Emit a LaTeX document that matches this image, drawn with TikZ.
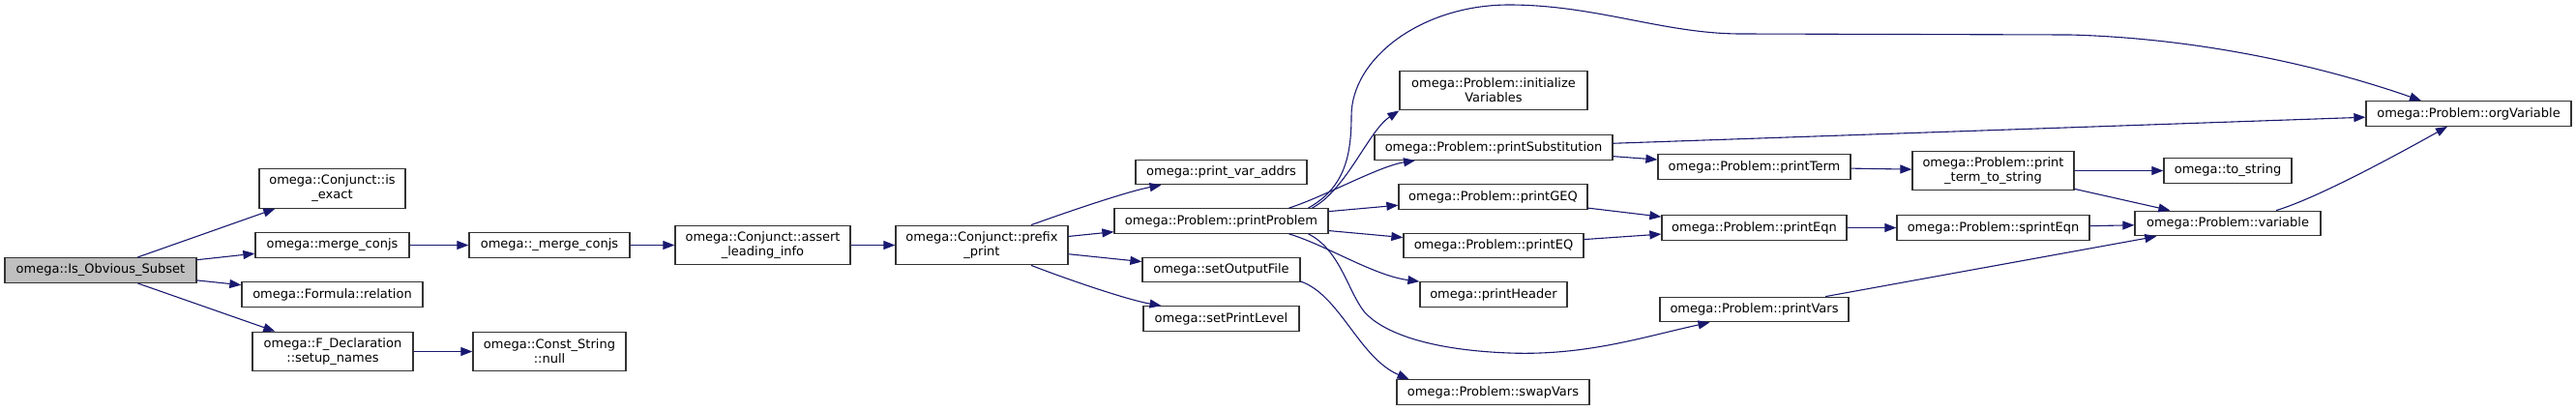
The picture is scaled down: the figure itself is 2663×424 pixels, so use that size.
\documentclass[tikz,border=0pt]{standalone}
\usepackage{fontspec}
\newfontfamily\dvsans{DejaVu Sans}
\usetikzlibrary{arrows.meta,calc}
\definecolor{linkblue}{HTML}{191970}
\definecolor{rootgray}{HTML}{BFBFBF}
\tikzset{
  fnbox/.style={draw=black!80, line width=1.3pt, fill=white, inner sep=0pt, minimum height=25.5pt, align=center, font=\dvsans\fontsize{13pt}{15pt}\selectfont},
  twoline/.style={minimum height=40.5pt},
  callarrow/.style={draw=linkblue, line width=1.1pt, -{Triangle[length=12pt,width=9pt]}}
}
\begin{document}
\begin{tikzpicture}[x=1pt, y=-1pt]
	\useasboundingbox (0,0) rectangle (2663,424);
	\node[fnbox, fill=rootgray, minimum width=198pt] (isobv) at (104,279.5) {omega::Is\_Obvious\_Subset};
	\foreach \n/\x/\y/\w/\t in {mergec/343.5/253.5/159/omega::merge\_conjs, relation/343.5/304.5/187/omega::Formula::relation,
		umerge/568/253.5/166/omega::\_merge\_conjs, pvaddrs/1262.5/178/177/omega::print\_var\_addrs,
		pproblem/1262.5/228.5/221/omega::Problem::printProblem, setof/1262.5/279/163/omega::setOutputFile,
		setpl/1262.5/329.5/161/omega::setPrintLevel, psubst/1544/152.5/246/omega::Problem::printSubstitution,
		pgeq/1543.5/203.5/195/omega::Problem::printGEQ, peq/1544/254/186/omega::Problem::printEQ,
		pheader/1544/304.5/152/omega::printHeader, swapv/1543.5/405.5/199/omega::Problem::swapVars,
		pterm/1813.5/172.5/199/omega::Problem::printTerm, peqn/1813.5/235.5/191/omega::Problem::printEqn,
		pvars/1813.5/320/195/omega::Problem::printVars, speqn/2060.5/235.5/199/omega::Problem::sprintEqn,
		tostr/2303/176.5/132/omega::to\_string, variable/2303/231/192/omega::Problem::variable,
		orgvar/2552/117.5/212/omega::Problem::orgVariable} {
		\node[fnbox, minimum width=\w pt] (\n) at (\x,\y) {\t};
	}
	\foreach \n/\x/\y/\w/\t in {isexact/343.5/195/151/{omega::Conjunct::is\\\_exact},
		setupn/344/363.5/166/{omega::F\_Declaration\\::setup\_names}, cnull/568/363.5/158/{omega::Const\_String\\::null},
		assertli/788.5/253.5/181/{omega::Conjunct::assert\\\_leading\_info}, prefixp/1015/253.5/178/{omega::Conjunct::prefix\\\_print},
		initvars/1544/93.5/194/{omega::Problem::initialize\\Variables}, ptts/2060.5/176.5/167/{omega::Problem::print\\\_term\_to\_string}} {
		\node[fnbox, twoline, minimum width=\w pt] (\n) at (\x,\y) {\t};
	}
	\foreach \a/\b in {isobv/isexact, isobv/mergec, isobv/relation, isobv/setupn, mergec/umerge, setupn/cnull,
		umerge/assertli, assertli/prefixp, prefixp/pproblem, prefixp/setof, pproblem/pgeq, pproblem/peq,
		psubst/orgvar, psubst/pterm, pgeq/peqn, peq/peqn, pterm/ptts, peqn/speqn, ptts/tostr, ptts/variable,
		speqn/variable, pvars/variable} {
		\draw[callarrow] (\a) -- (\b);
	}
	\draw[callarrow] ($(prefixp.north)+(51,0)$) .. controls (1101,220) and (1165,198) .. ($(pvaddrs.south)+(-62,0)$);
	\draw[callarrow] ($(prefixp.south)+(51,0)$) .. controls (1101,288) and (1165,310) .. ($(setpl.north)+(-62,0)$);
	\draw[callarrow] ($(pproblem.north)+(90,0)$) .. controls (1388,195) and (1397,165) .. (1397,120)
		.. controls (1397,60) and (1470,5) .. (1560,5) .. controls (1650,5) and (1720,35) .. (1800,35)
		-- (2140,36) .. controls (2290,40) and (2420,75) .. ($(orgvar.north)+(-49,0)$);
	\draw[callarrow] ($(pproblem.north)+(94,0)$) .. controls (1392,196) and (1415,135) .. (initvars.south west);
	\draw[callarrow] ($(pproblem.north)+(70,0)$) .. controls (1370,203) and (1425,172) .. ($(psubst.south)+(-81,0)$);
	\draw[callarrow] ($(pproblem.south)+(70,0)$) .. controls (1370,253) and (1420,285) .. (pheader.north west);
	\draw[callarrow] ($(pproblem.south)+(90,0)$) .. controls (1385,258) and (1393,300) .. (1410,322)
		.. controls (1430,345) and (1480,362) .. (1560,365) .. controls (1640,368) and (1700,348) .. ($(pvars.south)+(-46,0)$);
	\draw[callarrow] ($(setof.east)+(0,12)$) .. controls (1385,305) and (1405,370) .. ($(swapv.north)+(-87,0)$);
	\draw[callarrow] ($(variable.north)+(50,0)$) .. controls (2398,204) and (2485,156) .. ($(orgvar.south)+(-22,0)$);
\end{tikzpicture}
\end{document}
